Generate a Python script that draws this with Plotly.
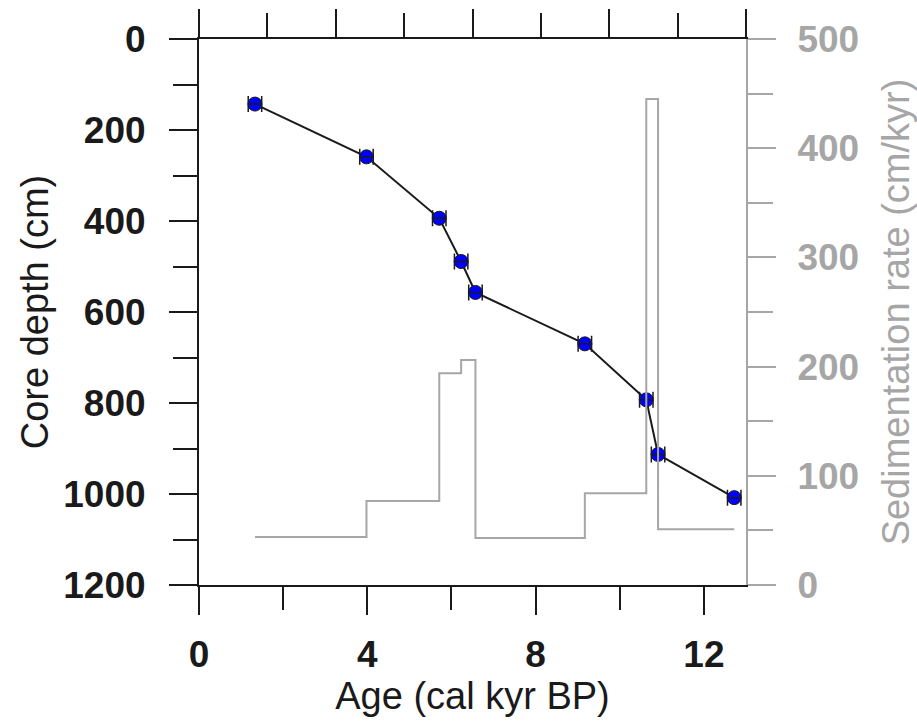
import plotly.graph_objects as go

# Radiocarbon dates: age (cal kyr BP) vs core depth (cm)
age = [1.33, 3.98, 5.71, 6.23, 6.57, 9.17, 10.63, 10.91, 12.72]
depth = [143, 259, 394, 489, 557, 670, 793, 913, 1008]
age_err = [0.16, 0.16, 0.16, 0.16, 0.16, 0.16, 0.16, 0.16, 0.16]

# Sedimentation rate (cm/kyr), step starting at each age node (last repeated)
sed_rate = [44, 77, 194, 206, 43, 84, 445, 51, 51]

FONT = "Liberation Sans"
GRAY = "#a6a6a6"
BLACK = "#1a1a1a"

fig = go.Figure()

fig.add_trace(go.Scatter(
    x=age, y=sed_rate, xaxis="x", yaxis="y2", mode="lines",
    line=dict(color=GRAY, width=2, shape="hv"), showlegend=False, hoverinfo="skip"))

fig.add_trace(go.Scatter(
    x=age, y=depth, xaxis="x", yaxis="y", mode="lines+markers",
    line=dict(color=BLACK, width=2),
    marker=dict(color="#0000ff", size=14, line=dict(color=BLACK, width=1)),
    showlegend=False))

fig.add_trace(go.Scatter(
    x=age, y=depth, xaxis="x", yaxis="y", mode="markers",
    marker=dict(size=1, color="rgba(0,0,0,0)"),
    error_x=dict(type="data", array=age_err, color=BLACK, thickness=1.5, width=8),
    showlegend=False, hoverinfo="skip"))

# dummy trace for the top axis
fig.add_trace(go.Scatter(x=[0, 8], y=[None, None], xaxis="x2", yaxis="y",
                         mode="markers", showlegend=False, hoverinfo="skip"))

tickfont = dict(family=FONT, size=37, color=BLACK, weight="bold")
titlefont = dict(family=FONT, size=38, color=BLACK)

fig.update_layout(
    width=917, height=723,
    margin=dict(l=199, r=171, t=39, b=138, autoexpand=False),
    paper_bgcolor="white", plot_bgcolor="white",
    xaxis=dict(
        range=[0, 13], tickmode="linear", tick0=0, dtick=4, automargin=False,
        ticks="outside", ticklen=28, tickwidth=2, tickcolor=BLACK,
        showline=True, linecolor=BLACK, linewidth=2,
        showgrid=False, zeroline=False, tickfont=tickfont, ticklabelstandoff=8,
        minor=dict(tickmode="linear", tick0=0, dtick=2, ticks="outside",
                   ticklen=23, tickwidth=2, tickcolor=BLACK, showgrid=False),
        title=dict(text="Age (cal kyr BP)", font=titlefont, standoff=8),
    ),
    xaxis2=dict(
        range=[0, 8], overlaying="x", side="top", tickmode="linear", tick0=0, dtick=2,
        automargin=False,
        ticks="outside", ticklen=28, tickwidth=2, tickcolor=BLACK,
        showline=True, linecolor=BLACK, linewidth=2, showticklabels=False,
        showgrid=False, zeroline=False,
        minor=dict(tickmode="linear", tick0=0, dtick=1, ticks="outside",
                   ticklen=24, tickwidth=2, tickcolor=BLACK, showgrid=False),
    ),
    yaxis=dict(
        range=[1200, 0], tickmode="linear", tick0=0, dtick=200, automargin=False,
        ticks="outside", ticklen=28, tickwidth=2, tickcolor=BLACK,
        showline=True, linecolor=BLACK, linewidth=2,
        showgrid=False, zeroline=False, tickfont=tickfont, ticklabelstandoff=16,
        minor=dict(tickmode="linear", tick0=0, dtick=100, ticks="outside",
                   ticklen=24, tickwidth=2, tickcolor=BLACK, showgrid=False),
        title=dict(text="Core depth (cm)", font=titlefont, standoff=3),
    ),
    yaxis2=dict(
        range=[0, 500], overlaying="y", side="right", tickmode="linear", tick0=0, dtick=100,
        automargin=False,
        ticks="outside", ticklen=28, tickwidth=2, tickcolor=GRAY,
        showline=True, linecolor=GRAY, linewidth=2,
        showgrid=False, zeroline=False, ticklabelstandoff=14,
        tickfont=dict(family=FONT, size=37, color=GRAY, weight="bold"),
        minor=dict(tickmode="linear", tick0=0, dtick=50, ticks="outside",
                   ticklen=25, tickwidth=2, tickcolor=GRAY, showgrid=False),
        title=dict(text="Sedimentation rate (cm/kyr)", font=dict(family=FONT, size=38, color=GRAY), standoff=26),
    ),
)

fig.write_html("out.html")
